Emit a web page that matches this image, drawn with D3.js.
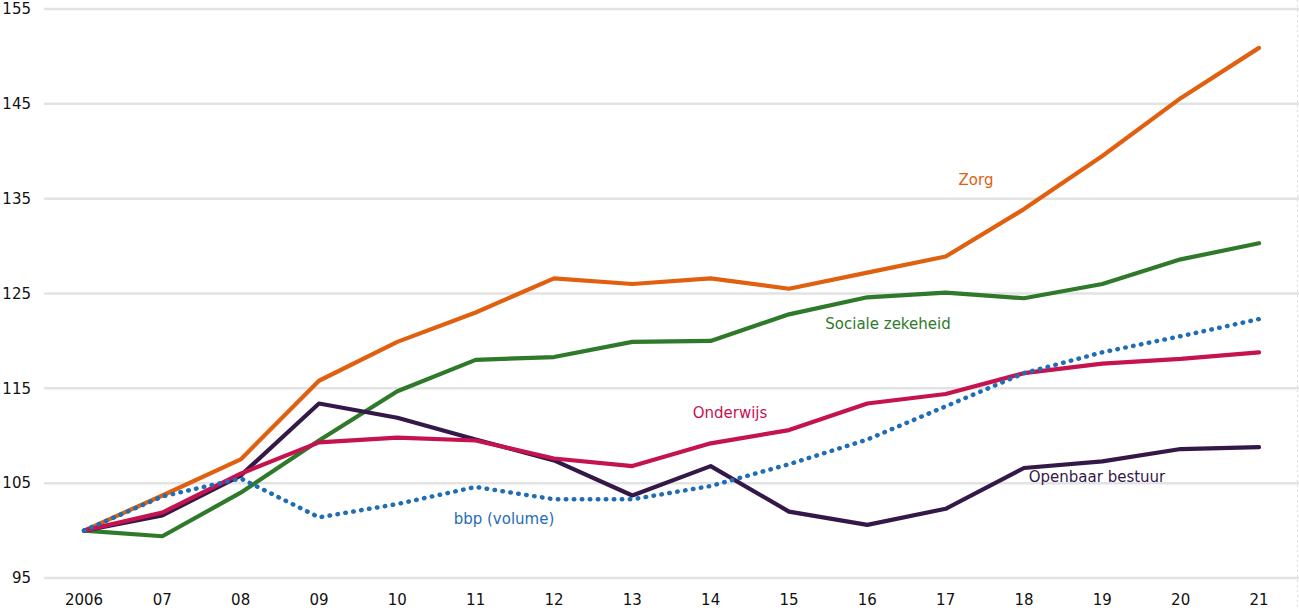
<!DOCTYPE html>
<html><head><meta charset="utf-8">
<script src="https://cdn.jsdelivr.net/npm/d3@7"></script>
<style>body{margin:0;background:#fff}svg{display:block}text{font-family:"DejaVu Sans",Verdana,sans-serif}</style>
</head><body><svg id="c" width="1299" height="610"></svg>
<script>
const years = ["2006","07","08","09","10","11","12","13","14","15","16","17","18","19","20","21"];
const yTicks = [95,105,115,125,135,145,155];
const zorg = [100,103.7,107.5,115.8,119.9,123.0,126.6,126.0,126.6,125.5,127.2,128.9,133.9,139.5,145.6,150.9];
const sociale = [100,99.4,104.0,109.5,114.7,118.0,118.3,119.9,120.0,122.8,124.6,125.1,124.5,126.0,128.6,130.3];
const onderwijs = [100,101.9,106.0,109.3,109.8,109.5,107.6,106.8,109.2,110.6,113.4,114.4,116.6,117.6,118.1,118.8];
const openbaar = [100,101.6,105.8,113.4,111.9,109.6,107.4,103.7,106.8,102.0,100.6,102.3,106.6,107.3,108.6,108.8];
const bbp = [100,103.6,105.5,101.4,102.8,104.6,103.3,103.3,104.7,107.0,109.6,113.1,116.6,118.8,120.5,122.3];

const series = [
  {name:"Zorg", values:zorg, color:"#e0600f", dotted:false, lx:976, ly:180},
  {name:"Sociale zekeheid", values:sociale, color:"#2f7a2a", dotted:false, lx:888, ly:324},
  {name:"Onderwijs", values:onderwijs, color:"#c5134f", dotted:false, lx:730, ly:413},
  {name:"Openbaar bestuur", values:openbaar, color:"#341848", dotted:false, lx:1097, ly:477},
  {name:"bbp (volume)", values:bbp, color:"#1f6db5", dotted:true, lx:504, ly:519}
];

const svg = d3.select("#c");
const x = d3.scalePoint().domain(years).range([84,1259]);
const y = d3.scaleLinear().domain([95,155]).range([578,9]);

svg.append("g").selectAll("line").data(yTicks).join("line")
  .attr("x1",44).attr("x2",1299).attr("y1",d=>y(d)).attr("y2",d=>y(d))
  .attr("stroke","#e3e3e3").attr("stroke-width",2.5);
svg.append("line").attr("x1",1297.5).attr("x2",1297.5).attr("y1",0).attr("y2",610)
  .attr("stroke","#dcdcdc").attr("stroke-width",1).attr("stroke-dasharray","2,3");

svg.append("g").selectAll("text").data(yTicks).join("text")
  .attr("x",31).attr("y",d=>y(d)).attr("dy","0.35em").attr("text-anchor","end")
  .attr("font-size",15).attr("fill","#111").text(d=>d);
svg.append("g").selectAll("text").data(years).join("text")
  .attr("x",d=>x(d)).attr("y",600).attr("dy","0.35em").attr("text-anchor","middle")
  .attr("font-size",15).attr("fill","#111").text(d=>d);

const line = d3.line().x((d,i)=>x(years[i])).y(d=>y(d));
const order = [series[1],series[0],series[3],series[2],series[4]];
order.forEach(s=>{
  const p = svg.append("path").attr("d",line(s.values)).attr("fill","none")
    .attr("stroke",s.color).attr("stroke-linejoin","round").attr("stroke-linecap","round");
  if(s.dotted){ p.attr("stroke-width",4.5).attr("stroke-dasharray","0.5,7.5"); }
  else { p.attr("stroke-width",4.2); }
});
series.forEach(s=>{
  svg.append("text").attr("x",s.lx).attr("y",s.ly).attr("dy","0.35em").attr("text-anchor","middle")
    .attr("font-size",15).attr("fill",s.color).text(s.name);
});
</script></body></html>
